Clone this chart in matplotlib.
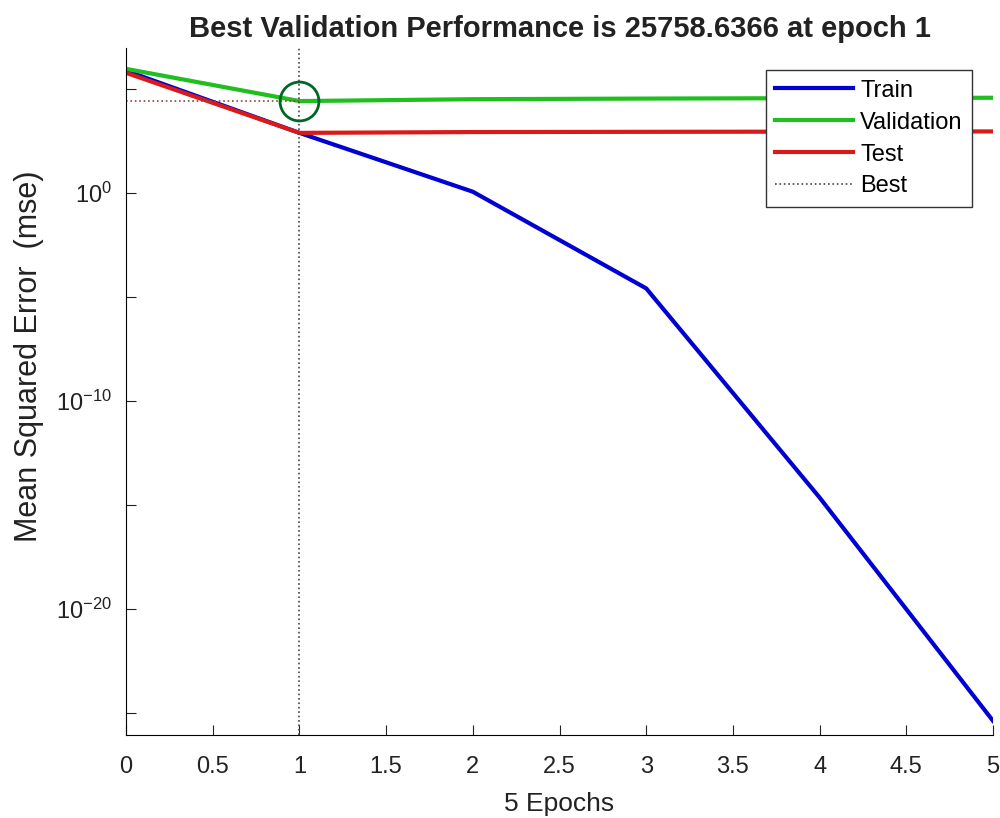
import numpy as np
import matplotlib
matplotlib.use("Agg")
import matplotlib.pyplot as plt

# values (log10 of mse per epoch)
epochs = [0, 1, 2, 3, 4, 5]
train_log = [5.87, 2.88, 0.05, -4.6, -14.66, -25.4]
val_log = [5.96, 4.41, 4.5, 4.53, 4.55, 4.57]
test_log = [5.77, 2.88, 2.92, 2.93, 2.94, 2.95]
best_epoch = 1
best_perf = 25758.6366

train = [10 ** v for v in train_log]
val = [10 ** v for v in val_log]
test = [10 ** v for v in test_log]

plt.rcParams['font.family'] = ['Liberation Sans', 'DejaVu Sans']
plt.rcParams['mathtext.fontset'] = 'custom'
plt.rcParams['mathtext.rm'] = 'Liberation Sans'
plt.rcParams['mathtext.it'] = 'Liberation Sans'

fig = plt.figure(figsize=(10, 8.18), dpi=100)
ax = fig.add_axes([0.126, 0.101, 0.867, 0.840])

ax.semilogy(epochs, train, color=(0, 0, 0.82), lw=3, label='Train')
ax.semilogy(epochs, val, color=(0.12, 0.75, 0.12), lw=3, label='Validation')
ax.semilogy(epochs, test, color=(0.85, 0.1, 0.1), lw=3, label='Test')

ylo, yhi = 10 ** -26.1, 10 ** 6.95
ax.plot([best_epoch, best_epoch], [ylo, yhi], ':', color='#444444', lw=1.2, label='Best')
ax.plot([0, best_epoch], [best_perf, best_perf], ':', color='#884444', lw=1.2)
ax.plot([best_epoch], [best_perf], 'o', ms=28, mfc='none', mec=(0, 0.4, 0.15), mew=2)

ax.set_xlim(0, 5)
ax.set_ylim(ylo, yhi)
ax.set_xticks(np.arange(0, 5.01, 0.5))
ax.set_xticklabels(['0', '0.5', '1', '1.5', '2', '2.5', '3', '3.5', '4', '4.5', '5'])
ax.set_yticks([1e-25, 1e-20, 1e-15, 1e-10, 1e-5, 1e0, 1e5])
ax.set_yticklabels(['', '$10^{-20}$', '', '$10^{-10}$', '', '$10^{0}$', ''])
ax.yaxis.set_minor_locator(matplotlib.ticker.NullLocator())
ax.tick_params(direction='in', length=7, labelsize=17, colors='#222222')
ax.tick_params(axis='x', pad=15)
ax.tick_params(axis='y', pad=10)
ax.spines['top'].set_visible(False)
ax.spines['right'].set_visible(False)

ax.set_xlabel('5 Epochs', fontsize=19, color='#222222', labelpad=10)
ax.set_ylabel('Mean Squared Error  (mse)', fontsize=22, color='#222222')
ax.yaxis.set_label_coords(-0.095, 0.552)
ax.set_title('Best Validation Performance is 25758.6366 at epoch 1',
             fontsize=21, fontweight='bold', pad=8, color='#222222')

leg = ax.legend(loc='upper right', bbox_to_anchor=(0.976, 0.968), fontsize=17,
                fancybox=False, edgecolor='#333333', framealpha=1,
                handlelength=3.3, handletextpad=0.3, labelspacing=0.42,
                borderpad=0.4, borderaxespad=0)
leg.get_frame().set_linewidth(1)

fig.savefig('out.png', dpi=100)
